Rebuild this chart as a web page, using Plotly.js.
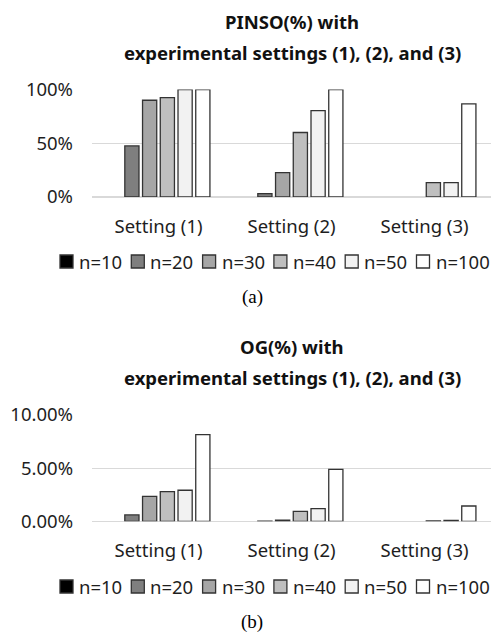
<!DOCTYPE html>
<html>
<head>
<meta charset="utf-8">
<script src="https://cdn.plot.ly/plotly-3.0.1.min.js"></script>
<style>html,body{margin:0;padding:0;background:#fff;}#chart{width:492px;height:633px;}</style>
</head>
<body>
<div id="chart"></div>
<script>
// ---- data ----
const categories = ['Setting (1)', 'Setting (2)', 'Setting (3)'];
const seriesNames = ['n=10', 'n=20', 'n=30', 'n=40', 'n=50', 'n=100'];
const seriesColors = ['#000000', '#7f7f7f', '#a6a6a6', '#bfbfbf', '#f2f2f2', '#ffffff'];

// PINSO (%)
const pinso_n10  = [0, 0, 0];
const pinso_n20  = [47.5, 3.1, 0];
const pinso_n30  = [90, 22.7, 0];
const pinso_n40  = [92.5, 60, 13.3];
const pinso_n50  = [100, 80.4, 13.3];
const pinso_n100 = [100, 100, 86.6];
const pinsoTickVals = [0, 50, 100];
const pinsoTickText = ['0%', '50%', '100%'];

// OG (%)
const og_n10  = [0, 0, 0];
const og_n20  = [0.6, 0.02, 0];
const og_n30  = [2.35, 0.1, 0];
const og_n40  = [2.79, 0.94, 0.03];
const og_n50  = [2.92, 1.19, 0.08];
const og_n100 = [8.15, 4.89, 1.44];
const ogTickVals = [0, 5, 10];
const ogTickText = ['0.00%', '5.00%', '10.00%'];

const pinsoSeries = [pinso_n10, pinso_n20, pinso_n30, pinso_n40, pinso_n50, pinso_n100];
const ogSeries = [og_n10, og_n20, og_n30, og_n40, og_n50, og_n100];

// ---- layout helpers ----
const W = 492, H = 633;
const py = p => 1 - p / H;
const FONT = 'Noto Sans, Open Sans, sans-serif';
const OUTLINE = '#333333';
const TEXT = '#1e1e1e';
// zero values are not drawn as bars (no outline line) in the original
const showVals = arr => arr.map(v => (v === 0 ? null : v));

const traces = [];
seriesNames.forEach((name, i) => {
  traces.push({
    type: 'bar', x: categories, y: showVals(pinsoSeries[i]), name: name,
    xaxis: 'x', yaxis: 'y', showlegend: false,
    marker: {color: seriesColors[i], line: {color: OUTLINE, width: 1.3}},
    hoverinfo: 'skip'
  });
});
seriesNames.forEach((name, i) => {
  traces.push({
    type: 'bar', x: categories, y: showVals(ogSeries[i]), name: name,
    xaxis: 'x2', yaxis: 'y2', showlegend: false,
    marker: {color: seriesColors[i], line: {color: OUTLINE, width: 1.3}},
    hoverinfo: 'skip'
  });
});

const xdom = [92 / W, 491 / W];
const tickFont = {family: FONT, size: 18.5, color: TEXT};
const axisCommon = {showline: false, ticks: '', tickfont: tickFont, fixedrange: true};
const titleFont = {family: FONT, size: 18.5, color: '#111111', weight: 'bold'};

const annotations = [
  {text: 'PINSO(%) with', x: 292 / W, y: py(21)},
  {text: 'experimental settings (1), (2), and (3)', x: 292 / W, y: py(53)},
  {text: 'OG(%) with', x: 292 / W, y: py(346)},
  {text: 'experimental settings (1), (2), and (3)', x: 292 / W, y: py(378)}
].map(a => Object.assign(a, {xref: 'paper', yref: 'paper', showarrow: false, xanchor: 'center', yanchor: 'middle', font: titleFont}));

const serif = {family: 'Liberation Serif, Times New Roman, serif', size: 19, color: '#000'};
annotations.push({text: '(a)', x: 252 / W, y: py(297), xref: 'paper', yref: 'paper', showarrow: false, xanchor: 'center', yanchor: 'middle', font: serif});
annotations.push({text: '(b)', x: 252 / W, y: py(622), xref: 'paper', yref: 'paper', showarrow: false, xanchor: 'center', yanchor: 'middle', font: serif});

// ---- legends (one under each panel) ----
const shapes = [];
const legendRows = [261.5, 586.5];
const legX0 = 60, legStep = 71.3, sq = 13;
legendRows.forEach(cy => {
  seriesNames.forEach((name, i) => {
    const x0 = legX0 + legStep * i;
    shapes.push({
      type: 'rect', xref: 'paper', yref: 'paper',
      x0: x0 / W, x1: (x0 + sq) / W, y0: py(cy + sq / 2), y1: py(cy - sq / 2),
      fillcolor: seriesColors[i], line: {color: OUTLINE, width: 1.3}
    });
    annotations.push({
      text: name, xref: 'paper', yref: 'paper', x: (x0 + 17) / W, y: py(cy),
      xanchor: 'left', yanchor: 'middle', showarrow: false,
      font: {family: FONT, size: 18.5, color: TEXT}
    });
  });
});

const layout = {
  width: W, height: H,
  margin: {l: 0, r: 0, t: 0, b: 0},
  paper_bgcolor: '#ffffff', plot_bgcolor: '#ffffff',
  barmode: 'group', bargap: 0.2, bargroupgap: 0.2,
  showlegend: false,
  xaxis: Object.assign({}, axisCommon, {domain: xdom, anchor: 'y', ticklabelstandoff: 16}),
  yaxis: Object.assign({}, axisCommon, {
    domain: [py(197), py(89.5)], anchor: 'x', range: [0, 100],
    tickmode: 'array', tickvals: pinsoTickVals, ticktext: pinsoTickText,
    gridcolor: '#d9d9d9', gridwidth: 1.3, zeroline: true, zerolinecolor: '#d9d9d9', zerolinewidth: 1.5,
    ticklabelstandoff: 18
  }),
  xaxis2: Object.assign({}, axisCommon, {domain: xdom, anchor: 'y2', ticklabelstandoff: 16}),
  yaxis2: Object.assign({}, axisCommon, {
    domain: [py(521.3), py(415)], anchor: 'x2', range: [0, 10],
    tickmode: 'array', tickvals: ogTickVals, ticktext: ogTickText,
    gridcolor: '#d9d9d9', gridwidth: 1.3, zeroline: true, zerolinecolor: '#d9d9d9', zerolinewidth: 1.5,
    ticklabelstandoff: 18
  }),
  shapes: shapes,
  annotations: annotations
};

Plotly.newPlot('chart', traces, layout, {displayModeBar: false, staticPlot: true});
</script>
</body>
</html>
